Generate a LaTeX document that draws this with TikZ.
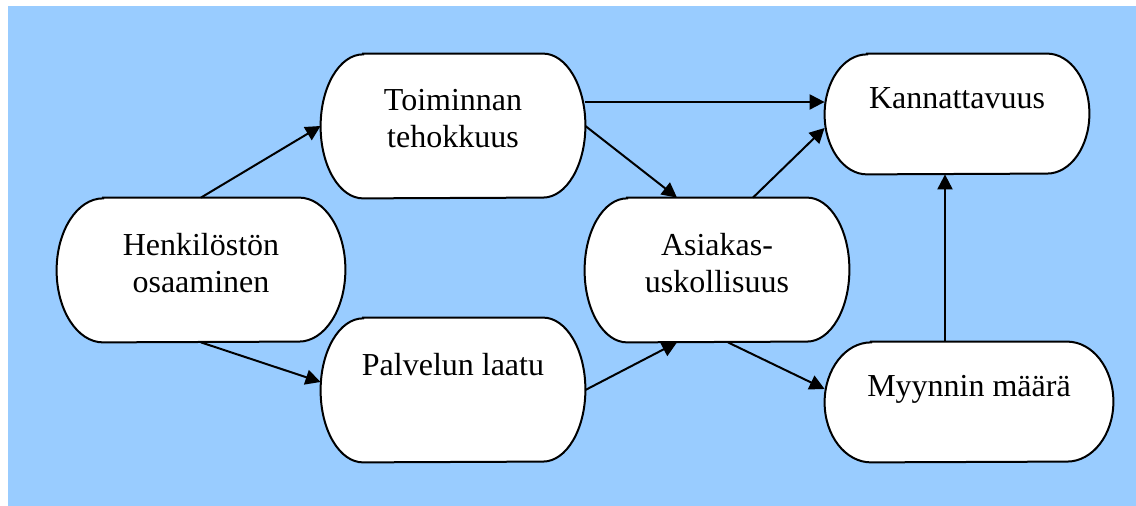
\documentclass[tikz,border=0pt]{standalone}
\usepackage{fontspec}
\setmainfont{Liberation Serif}
\usepackage{tikz}
\usetikzlibrary{arrows.meta, backgrounds}
\definecolor{skyblue}{HTML}{99CCFF}
% text set from the top of a box: height, first baseline, lines
\newcommand{\boxtext}[3]{\parbox[c][#1][t]{124pt}{\centering\rule{0pt}{#2}#3}}
\tikzset{
    term/.style={rectangle, inner sep=0pt, minimum width=132pt, font=\fontsize{16}{18.5}\selectfont},
    wide/.style={minimum width=144pt},
    outline/.style={line width=1pt, draw=black, fill=white},
    arrow/.style={line width=1pt, -{Triangle[length=7.5pt, width=7.5pt]}}
}

\begin{document}
\begin{tikzpicture}[x=1pt, y=1pt]
    \useasboundingbox (0,0) rectangle (568,253);

    % Boxes
    \node (henk) [term, wide] at (100.5,118) {\boxtext{72pt}{29pt}{Henkilöstön\\osaaminen}};
    \node (toim) [term] at (226.5,190) {\boxtext{72pt}{28.5pt}{Toiminnan\\tehokkuus}};
    \node (palv) [term] at (226.5,58) {\boxtext{72pt}{29pt}{Palvelun laatu}};
    \node (asiak) [term] at (358.5,118) {\boxtext{72pt}{29pt}{Asiakas-\\uskollisuus}};
    \node (kann) [term] at (478.5,196) {\boxtext{60pt}{27.5pt}{Kannattavuus}};
    \node (myyn) [term, wide] at (484.5,52) {\boxtext{60pt}{27.5pt}{Myynnin määrä}};

    % Background and box outlines
    \begin{scope}[on background layer]
        \fill[skyblue] (4,0) rectangle (568,250);
        \foreach \n/\rx/\ry in {henk/23.2pt/36pt, toim/21.2pt/36pt, palv/21.2pt/36pt,
                                asiak/21.2pt/36pt, kann/21.2pt/30pt, myyn/23.2pt/30pt}
            \draw[outline] ([xshift=\rx]\n.north west) -- ([xshift=-\rx]\n.north east)
                arc[start angle=90, end angle=-90, x radius=\rx, y radius=\ry]
                -- ([xshift=\rx]\n.south west)
                arc[start angle=270, end angle=90, x radius=\rx, y radius=\ry] -- cycle;
    \end{scope}

    % Arrows
    \draw [arrow] (henk.north) -- (toim.west);
    \draw [arrow] (henk.south) -- ([yshift=4pt]palv.west);
    \draw [arrow] ([yshift=12pt]toim.east) -- ([yshift=12pt]toim.east -| kann.west);
    \draw [arrow] (toim.east) -- ([xshift=-20pt]asiak.north);
    \draw [arrow] ([xshift=18pt]asiak.north) -- ([yshift=-7pt]kann.west);
    \draw [arrow] (palv.east) -- ([xshift=-20pt]asiak.south);
    \draw [arrow] ([xshift=5.5pt]asiak.south) -- ([yshift=6.5pt]myyn.west);
    \draw [arrow] ([xshift=-12pt]myyn.north) -- ([xshift=-12pt]myyn.north |- kann.south);
\end{tikzpicture}
\end{document}
